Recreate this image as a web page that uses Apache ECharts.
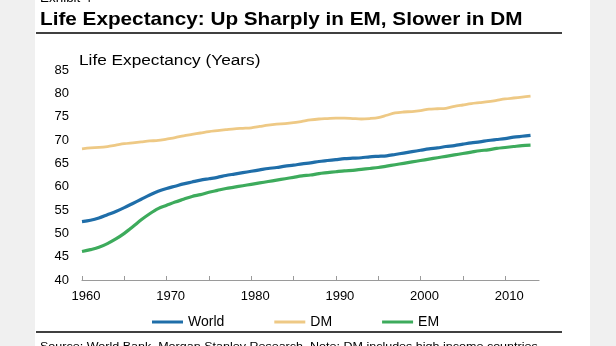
<!DOCTYPE html>
<html>
<head>
<meta charset="utf-8">
<script src="https://cdn.jsdelivr.net/npm/echarts@6/dist/echarts.min.js"></script>
<style>
  html, body { margin: 0; padding: 0; background: #f0f0f0; }
  #sheet { position: absolute; left: 35px; top: 0; width: 555px; height: 346px; background: #ffffff; }
  #chart { position: absolute; left: 0; top: 0; width: 616px; height: 346px; }
</style>
</head>
<body>
<div id="sheet"></div>
<div id="chart"></div>
<script>
// Years on the horizontal axis (the axis runs one year past the last observation)
const years = [];
for (let y = 1960; y <= 2014; y++) years.push(String(y));

// Life expectancy at birth, years, 1960-2013
const world = [
  52.5, 52.8, 53.3, 54.0, 54.7, 55.5, 56.4, 57.3, 58.2, 59.0,
  59.6, 60.1, 60.6, 61.0, 61.4, 61.7, 62.0, 62.4, 62.7, 63.0,
  63.3, 63.6, 63.9, 64.1, 64.4, 64.6, 64.9, 65.1, 65.4, 65.6,
  65.8, 66.0, 66.1, 66.2, 66.4, 66.5, 66.6, 66.9, 67.2, 67.5,
  67.8, 68.1, 68.3, 68.6, 68.8, 69.1, 69.4, 69.6, 69.9, 70.1,
  70.3, 70.6, 70.8, 71.0
];
const dm = [
  68.1, 68.3, 68.4, 68.6, 68.9, 69.2, 69.4, 69.6, 69.8, 69.9,
  70.2, 70.5, 70.9, 71.2, 71.5, 71.8, 72.0, 72.2, 72.4, 72.5,
  72.6, 72.9, 73.2, 73.4, 73.5, 73.7, 74.0, 74.3, 74.5, 74.6,
  74.7, 74.7, 74.6, 74.5, 74.6, 74.8, 75.3, 75.8, 76.0, 76.1,
  76.3, 76.6, 76.7, 76.8, 77.2, 77.5, 77.8, 78.0, 78.2, 78.5,
  78.8, 79.0, 79.2, 79.4
];
const em = [
  46.1, 46.5, 47.0, 47.8, 48.8, 50.0, 51.4, 52.9, 54.2, 55.3,
  56.0, 56.7, 57.3, 57.9, 58.3, 58.8, 59.2, 59.6, 59.9, 60.2,
  60.5, 60.8, 61.1, 61.4, 61.7, 62.0, 62.3, 62.5, 62.8, 63.0,
  63.2, 63.4, 63.5, 63.7, 63.9, 64.1, 64.4, 64.7, 65.0, 65.3,
  65.6, 65.9, 66.2, 66.5, 66.8, 67.1, 67.4, 67.7, 67.9, 68.2,
  68.4, 68.6, 68.8, 68.9
];

const seriesNames = ['World', 'DM', 'EM'];
const seriesColors = ['#1f6ea9', '#eec985', '#3dab5c'];

const exhibitLabel = 'Exhibit 4';
const titleText = 'Life Expectancy: Up Sharply in EM, Slower in DM';
const unitText = 'Life Expectancy (Years)';
const sourceText = 'Source: World Bank, Morgan Stanley Research. Note: DM includes high income countries';

const FONT = '"Liberation Sans", Arial, Helvetica, sans-serif';
const STRETCH = 1.12;

function label(text, x, y, size, weight) {
  return {
    type: 'text', x: x, y: y, scaleX: STRETCH, z: 10,
    style: {
      text: text, fill: '#000', fontFamily: FONT, fontSize: size, fontWeight: weight,
      align: 'left', verticalAlign: 'middle', textAlign: 'left', textVerticalAlign: 'middle'
    }
  };
}
function rule(y) {
  return { type: 'line', z: 10, shape: { x1: 36, y1: y, x2: 562, y2: y }, style: { stroke: '#000', lineWidth: 1.6 } };
}

const chart = echarts.init(document.getElementById('chart'), null, { renderer: 'canvas' });
chart.setOption({
  backgroundColor: 'transparent',
  animation: false,
  textStyle: { fontFamily: FONT },
  grid: { left: 82, right: 77, top: 70, bottom: 66, containLabel: false },
  legend: {
    left: 147, top: 310,
    icon: 'rect', itemWidth: 31, itemHeight: 3, itemGap: 50,
    textStyle: { fontFamily: FONT, fontSize: 14, color: '#000' },
    data: seriesNames
  },
  xAxis: {
    type: 'category', data: years, boundaryGap: false,
    axisLine: { lineStyle: { color: '#9a9a9a', width: 1.2 } },
    axisTick: { inside: true, length: 4, interval: (i) => i % 5 === 0, lineStyle: { color: '#9a9a9a' } },
    axisLabel: {
      interval: (i) => i % 10 === 0, margin: 10, padding: [0, 0, 0, 8],
      color: '#000', fontSize: 13, fontFamily: FONT
    },
    splitLine: { show: false }
  },
  yAxis: {
    type: 'value', min: 40, max: 85, interval: 5,
    axisLine: { show: false }, axisTick: { show: false }, splitLine: { show: false },
    axisLabel: { margin: 13, color: '#000', fontSize: 13, fontFamily: FONT }
  },
  series: [
    { name: seriesNames[0], type: 'line', data: world, smooth: 0.3, showSymbol: false, symbol: 'none',
      color: seriesColors[0], lineStyle: { width: 3.2, color: seriesColors[0] } },
    { name: seriesNames[1], type: 'line', data: dm, smooth: 0.3, showSymbol: false, symbol: 'none',
      color: seriesColors[1], lineStyle: { width: 2.8, color: seriesColors[1] } },
    { name: seriesNames[2], type: 'line', data: em, smooth: 0.3, showSymbol: false, symbol: 'none',
      color: seriesColors[2], lineStyle: { width: 3.2, color: seriesColors[2] } }
  ],
  graphic: [
    label(exhibitLabel, 40, -1.5, 12, 'normal'),
    label(titleText, 40, 19.5, 18.5, 'bold'),
    rule(33),
    label(unitText, 79, 60.5, 15.4, 'normal'),
    rule(332),
    label(sourceText, 40, 347, 11.2, 'normal')
  ]
});
</script>
</body>
</html>
